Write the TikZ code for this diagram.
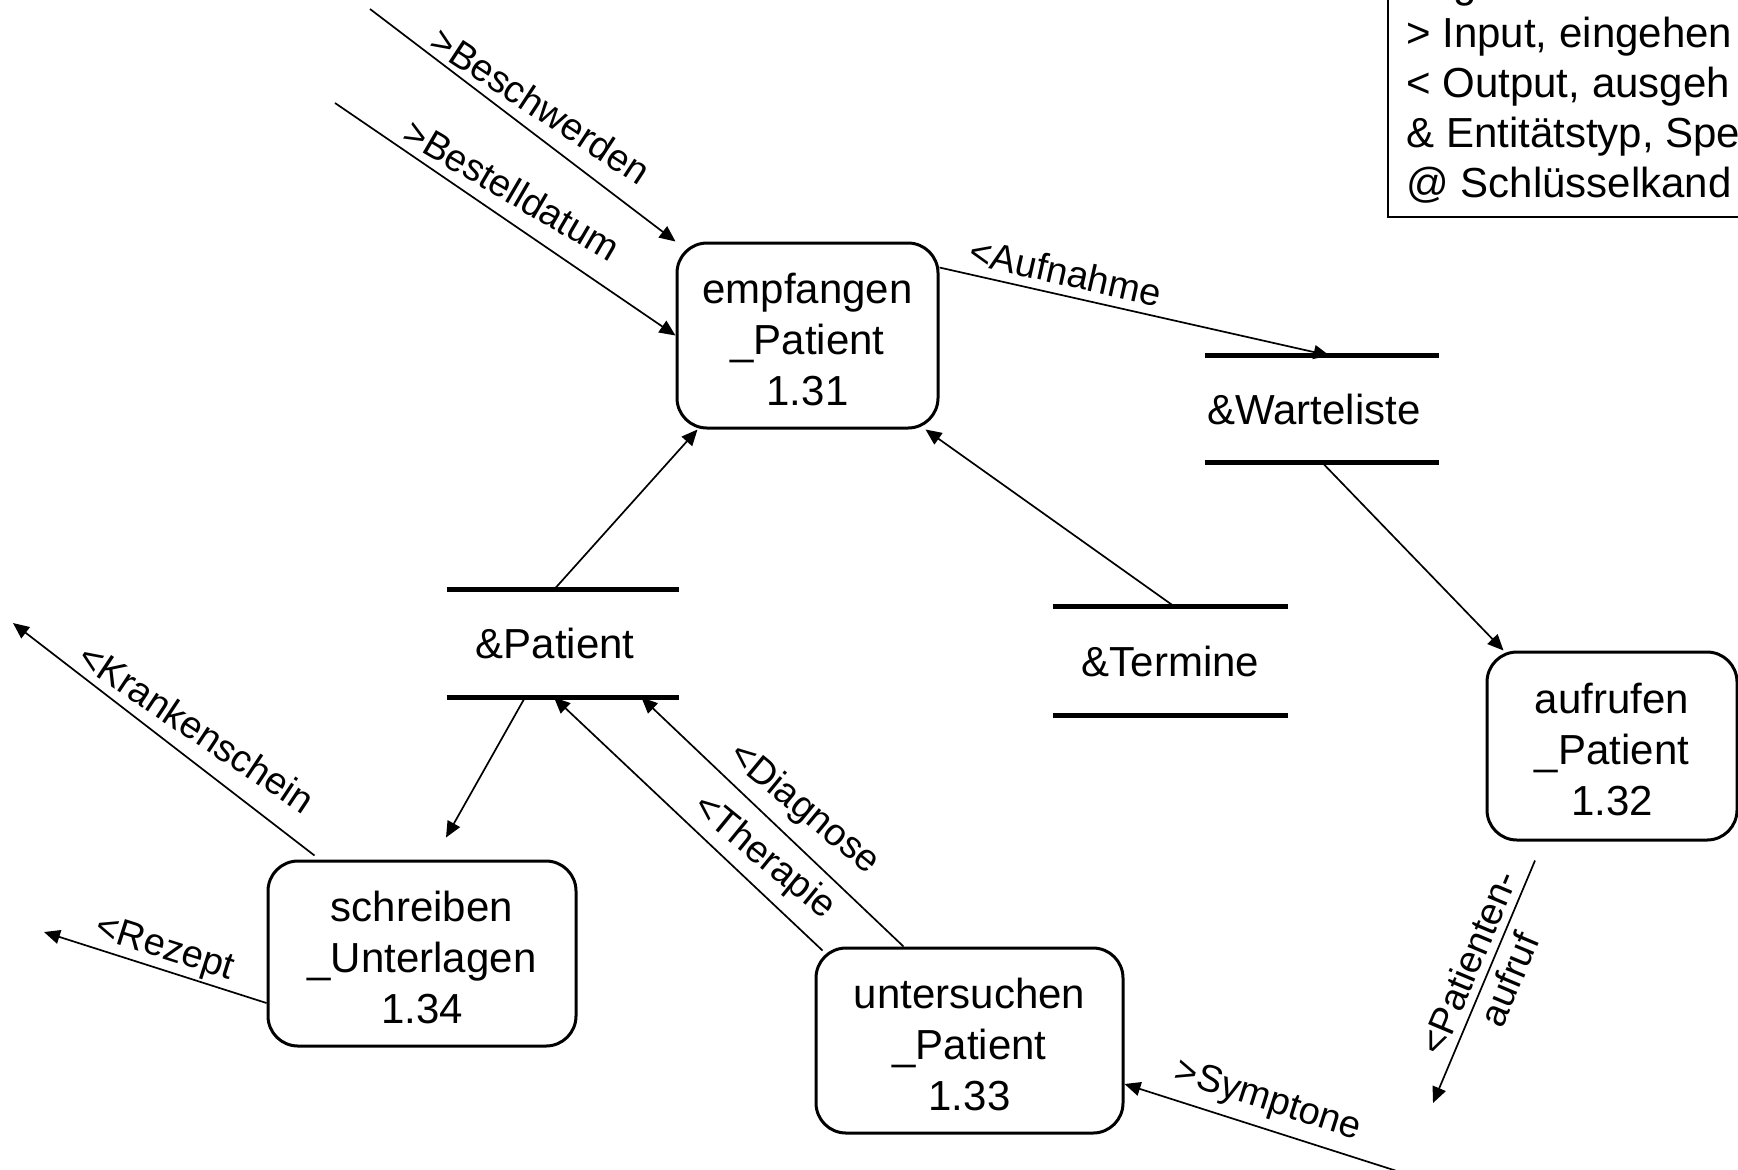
\documentclass[tikz,border=0pt]{standalone}
\usepackage{fontspec}
\setmainfont{Liberation Sans}
\usetikzlibrary{arrows.meta}

% strut that sets the height of the first line in a process box
\newcommand\procfirstline{\rule{0pt}{18.8pt}}

\begin{document}
\begin{tikzpicture}[x=0.5pt,y=-0.5pt,
  proc/.style={draw, line width=1.5pt, rounded corners=15pt, align=center,
    font=\fontsize{21}{25.5}\selectfont, inner sep=0pt},
  store/.style={inner sep=0pt, font=\fontsize{21}{25.5}\selectfont},
  storeline/.style={line width=2.3pt},
  flow/.style={line width=0.85pt, -{Triangle[length=8pt,width=7pt]}},
  lab/.style={font=\fontsize{19}{22}\selectfont, sloped, above=3pt, inner sep=1.5pt,
    text height=13.5pt, text depth=0pt},
  tilt/.style={rotate=4},
  legtext/.style={font=\fontsize{21}{25.5}\selectfont, inner sep=0pt, anchor=base west},
]
\useasboundingbox (0,0) rectangle (1738,1169);
\fill[white] (0,0) rectangle (1738,1169);
\clip (0,0) rectangle (1738,1169);

% processes
\node[proc, minimum width=130.5pt, minimum height=92.5pt] (empf) at (807.5,335.5) {\procfirstline empfangen\\\_Patient\\1.31};
\node[proc, minimum width=125pt, minimum height=94pt] (aufr) at (1612,746) {\procfirstline aufrufen\\\_Patient\\1.32};
\node[proc, minimum width=154pt, minimum height=92.5pt] (schr) at (422,953.5) {\procfirstline schreiben\\\_Unterlagen\\1.34};
\node[proc, minimum width=153.5pt, minimum height=92.5pt] (unters) at (969.5,1040.5) {\procfirstline untersuchen\\\_Patient\\1.33};

% data stores (trailing space moves the name a little left of centre)
\node[store, minimum width=117pt, minimum height=53pt] (warte) at (1322,409) {\&Warteliste\hspace*{8pt}};
\node[store, minimum width=116pt, minimum height=53.5pt] (pat) at (563,643.5) {\&Patient\hspace*{8pt}};
\node[store, minimum width=117.5pt, minimum height=54pt] (term) at (1170.5,661) {\&Termine};
\foreach \s in {warte,pat,term}
  \draw[storeline] (\s.north west) -- (\s.north east) (\s.south west) -- (\s.south east);

% free ends of external flows
\coordinate (inBesch) at (370,9);
\coordinate (inBest) at (335,103);
\coordinate (outKrank) at (13,623);
\coordinate (outRez) at (44,932);
\coordinate (outAufruf) at (1433,1103);
\coordinate (inSympt) at (1400,1172);

% flows
\draw[flow] (inBesch) -- node[lab, tilt, pos=0.51, above=1.5pt] {>Beschwerden} (empf.north west);
\draw[flow] (inBest) -- node[lab, tilt, pos=0.477, above=2.5pt] {>Bestelldatum} (empf.west);
\draw[flow] ([yshift=-13pt]empf.north east) -- node[lab, pos=0.31] {<Aufnahme} ([xshift=62.5pt]warte.north west);
\draw[flow] (warte.south) -- ([xshift=9pt]aufr.north west);
\draw[flow] ([xshift=-4.5pt]pat.north) -- ([xshift=11pt]empf.south west);
\draw[flow] ([xshift=2pt]term.north) -- ([xshift=-7pt]empf.south east);
\draw[flow] ([xshift=-19pt]pat.south) -- ([xshift=12pt,yshift=11pt]schr.north);
\draw[flow] ([xshift=4pt,yshift=-2pt]unters.north west) -- node[lab, tilt, pos=0.284, above=3.8pt] {<Therapie} ([xshift=-4.5pt]pat.south);
\draw[flow] ([xshift=-33pt]unters.north) -- node[lab, tilt, pos=0.456, above=5.5pt] {<Diagnose} ([xshift=-19pt]pat.south east);
\draw[flow] ([xshift=24pt,yshift=2pt]schr.north west) -- node[lab, tilt, pos=0.445, above=3pt] {<Krankenschein} (outKrank);
\draw[flow] ([yshift=-24.75pt]schr.west) -- node[lab, pos=0.486, above=0.5pt] {<Rezept} (outRez);
\draw[flow] ([xshift=-38.5pt,yshift=-9.5pt]aufr.south) -- node[sloped, pos=0.455, align=center, inner sep=0pt,
  font=\fontsize{19}{22}\selectfont] {<Patienten-\\aufruf} (outAufruf);
\draw[flow] (inSympt) -- node[lab, pos=0.51, above=4pt] {>Symptone} ([yshift=-21.75pt]unters.east);

% legend
\draw[line width=1pt] (1388,217) rectangle (1770,-30);
\node[legtext] (leg0) at (1406,-3) {Legende};
\node[legtext] (leg1) at (1406,47) {> Input, eingehen};
\node[legtext] (leg2) at (1406,97) {< Output, ausgeh};
\node[legtext] (leg3) at (1406,147) {\& Entitätstyp, Spe};
\node[legtext] (leg4) at (1406,197) {@ Schlüsselkand};
\end{tikzpicture}
\end{document}
